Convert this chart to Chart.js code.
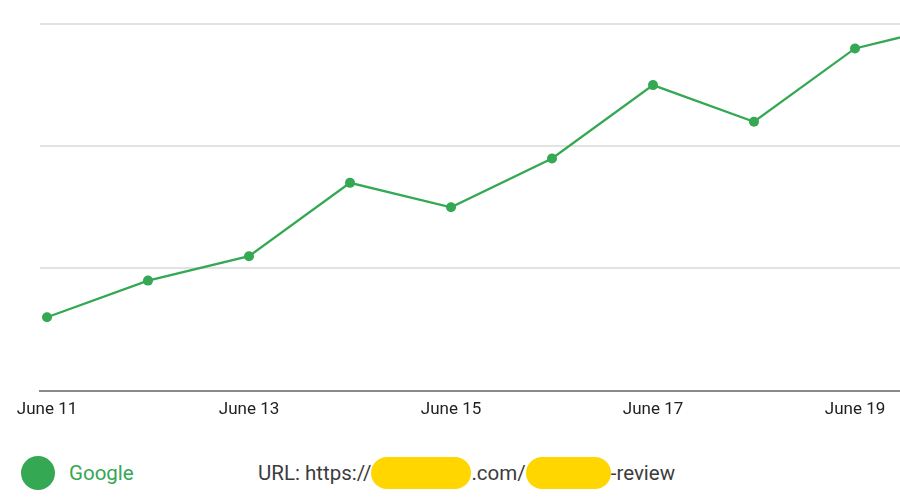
<!DOCTYPE html>
<html>
<head>
<meta charset="utf-8">
<script src="https://cdn.jsdelivr.net/npm/chart.js@4"></script>
<style>
  html, body { margin: 0; padding: 0; background: #fff; font-family: Roboto, sans-serif; }
  #wrap { position: relative; width: 900px; height: 500px; overflow: hidden; }
  #box { position: absolute; left: 0; top: 0; width: 900px; height: 438px; }
  .legend { position: absolute; left: 0; top: 455px; width: 900px; height: 40px; font-size: 20.5px; }
  .dot { position: absolute; left: 21px; top: 1px; width: 34px; height: 34px; border-radius: 50%; background: #34a853; }
  .name { position: absolute; left: 69px; top: 6px; color: #34a853; }
  .url { position: absolute; left: 258px; top: 6px; color: #3c3c3c; white-space: nowrap; }
  .blob { display: inline-block; height: 32px; border-radius: 16px; background: #ffd600; vertical-align: middle; margin-top: -4px; }
</style>
</head>
<body>
<div id="wrap">
  <div id="box"><canvas id="cvs"></canvas></div>
  <div class="legend">
    <div class="dot"></div>
    <div class="name">Google</div>
    <div class="url">URL: https://<span class="blob" style="width:100px"></span>.com/<span class="blob" style="width:85px"></span>-review</div>
  </div>
</div>
<script>
// days of June shown on the x axis (June 20 runs off the right edge)
const days = [11, 12, 13, 14, 15, 16, 17, 18, 19, 20];
const visits = [0.60, 0.90, 1.10, 1.70, 1.50, 1.90, 2.50, 2.20, 2.80, 3.00];
const tickDays = [11, 13, 15, 17, 19];
const seriesName = 'Google';
const green = '#34a853';

const ctx = document.getElementById('cvs');
const chart = new Chart(ctx, {
    type: 'line',
    data: {
        datasets: [{
            label: seriesName,
            data: days.map((d, i) => ({ x: d, y: visits[i] })),
            borderColor: green,
            backgroundColor: green,
            borderWidth: 2.3,
            pointRadius: 5,
            pointBorderWidth: 0,
            tension: 0
        }]
    },
    options: {
        responsive: true,
        maintainAspectRatio: false,
        animation: false,
        layout: { autoPadding: false, padding: { left: 40, top: 24, right: 0, bottom: 9 } },
        plugins: { legend: { display: false }, tooltip: { enabled: false } },
        scales: {
            x: {
                type: 'linear',
                min: 11 - 7 / 101,
                max: 11 + 853 / 101,
                afterBuildTicks: s => { s.ticks = tickDays.map(v => ({ value: v })); },
                grid: { display: false, drawTicks: false },
                border: { display: true, color: '#8a8a8a', width: 2 },
                ticks: {
                    padding: 9,
                    color: '#222',
                    font: { family: 'Roboto', size: 17 },
                    maxRotation: 0,
                    autoSkip: false,
                    callback: v => 'June ' + v
                }
            },
            y: {
                min: 0,
                max: 3,
                ticks: { display: false, stepSize: 1 },
                grid: { color: '#e2e2e2', lineWidth: 2, drawTicks: false },
                border: { display: false }
            }
        }
    }
});
</script>
</body>
</html>
